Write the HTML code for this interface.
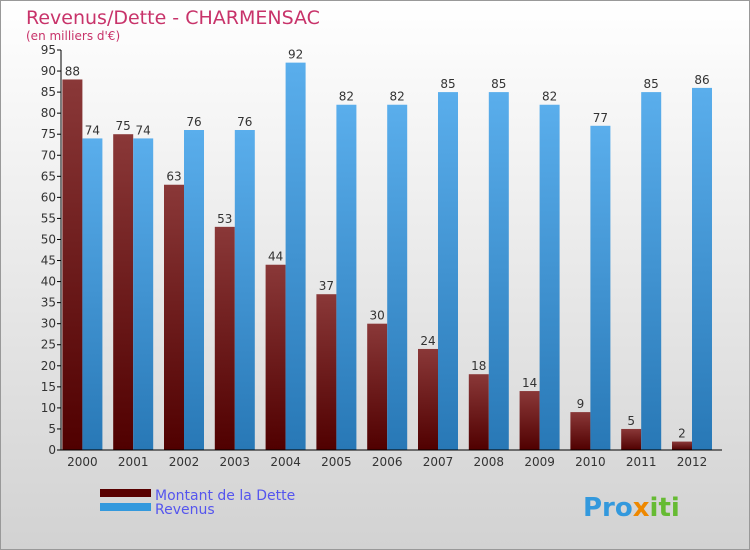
<!DOCTYPE html>
<html><head><meta charset="utf-8"><style>
body{margin:0}
svg{display:block;font-family:"DejaVu Sans","Liberation Sans",sans-serif}
</style></head><body>
<svg id="c" width="750" height="550">
<defs>
<linearGradient id="bg" x1="0" y1="0" x2="0" y2="1"><stop offset="0" stop-color="#ffffff"/><stop offset="1" stop-color="#d2d2d2"/></linearGradient>
<linearGradient id="gd" x1="0" y1="0" x2="0" y2="1"><stop offset="0" stop-color="#8a3838"/><stop offset="1" stop-color="#500000"/></linearGradient>
<linearGradient id="gr" x1="0" y1="0" x2="0" y2="1"><stop offset="0" stop-color="#5aaeec"/><stop offset="1" stop-color="#2878b6"/></linearGradient>
</defs>
<rect x="0.5" y="0.5" width="749" height="549" fill="url(#bg)" stroke="#999"/>
<text x="26" y="24" font-size="19" fill="#c8336a">Revenus/Dette - CHARMENSAC</text>
<text x="26" y="40" font-size="12" fill="#c8336a">(en milliers d'€)</text>
<g id="plot"></g>
<rect x="100" y="489" width="51" height="8" fill="#580000"/>
<text x="155" y="500" font-size="14" fill="#5555ee">Montant de la Dette</text>
<rect x="100" y="503" width="51" height="8" fill="#3399dd"/>
<text x="155" y="514" font-size="14" fill="#5555ee">Revenus</text>
<text x="583" y="516" font-size="26" font-weight="bold" fill="#3399dd">Pro<tspan fill="#ee8800">x</tspan><tspan fill="#66bb33">iti</tspan></text>
</svg>
<script>
const years=["2000","2001","2002","2003","2004","2005","2006","2007","2008","2009","2010","2011","2012"];
const dette=[88,75,63,53,44,37,30,24,18,14,9,5,2];
const revenus=[74,74,76,76,92,82,82,85,85,82,77,85,86];
const yTicks=[0,5,10,15,20,25,30,35,40,45,50,55,60,65,70,75,80,85,90,95];
const NS="http://www.w3.org/2000/svg";
const g=document.getElementById('plot');
const y=v=>450-v*(400/95);
const x0=61,step=50.8,bw=20;
function mk(t,a,txt){const e=document.createElementNS(NS,t);for(const k in a)e.setAttribute(k,a[k]);if(txt!==undefined)e.textContent=txt;g.appendChild(e);return e;}
yTicks.forEach(v=>{
 const l=mk('line',{x1:57,x2:61,y1:y(v),y2:y(v),stroke:'#000'});
 
 
 const t=mk('text',{x:56,y:y(v)+4,'text-anchor':'end','font-size':12,fill:'#333'},v);
 
 
});
years.forEach((yr,i)=>{
 const cx=x0+step*(i+0.5);
 const a=mk('rect',{x:cx-bw-4,y:y(dette[i]),width:bw,height:450-y(dette[i]),fill:'url(#gd)'});
 
 
 const b=mk('rect',{x:cx-4,y:y(revenus[i]),width:bw,height:450-y(revenus[i]),fill:'url(#gr)'});
 
 
 const la=mk('text',{x:cx-bw/2-4,y:y(dette[i])-4,'text-anchor':'middle','font-size':12,fill:'#333'},dette[i]);
 
 
 const lb=mk('text',{x:cx+bw/2-4,y:y(revenus[i])-4,'text-anchor':'middle','font-size':12,fill:'#333'},revenus[i]);
 
 
 const xl=mk('text',{x:cx-4,y:466,'text-anchor':'middle','font-size':12,fill:'#333'},yr);
 
 
});
const ax=mk('line',{x1:61,x2:61,y1:y(95),y2:450,stroke:'#000'});


const bx=mk('line',{x1:61,x2:722,y1:450,y2:450,stroke:'#000'});


</script>
</body></html>
